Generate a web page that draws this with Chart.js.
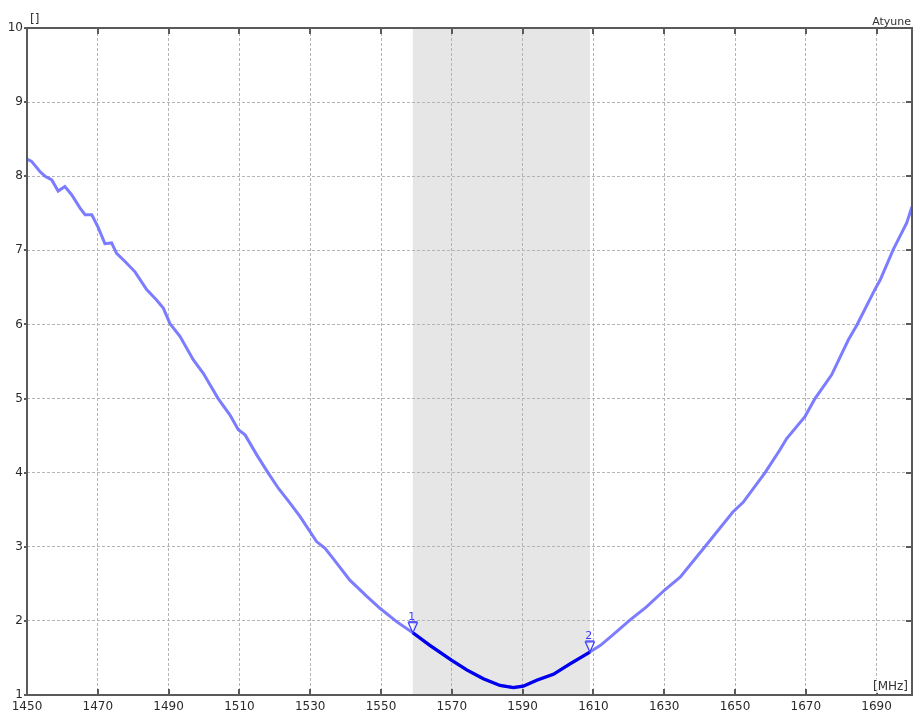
<!DOCTYPE html>
<html>
<head>
<meta charset="utf-8">
<script src="https://cdn.jsdelivr.net/npm/chart.js@4.4.1/dist/chart.umd.min.js"></script>
<style>
  html, body { margin: 0; padding: 0; background: #fff; }
  #wrap { width: 913px; height: 716px; position: relative; }
</style>
</head>
<body>
<div id="wrap"><canvas id="c"></canvas></div>
<script>
// ---- data ----
const curveFreqs = [1450, 1451.3, 1453.7, 1455.1, 1457, 1458.8, 1460.7, 1462.6, 1465, 1466.4, 1468.3, 1470.1,
  1472, 1473.9, 1475.3, 1477.7, 1480.5, 1483.8, 1486.6, 1488.5, 1490.4, 1493.2, 1497, 1499.8, 1504,
  1507.3, 1509.7, 1511.6, 1514.9, 1518.2, 1521, 1524.3, 1527.1, 1531.8, 1534.2, 1536.5, 1541.2, 1546,
  1549.7, 1554.4, 1559, 1563.8, 1569.9, 1574.2, 1578.9, 1583.6, 1587.4, 1590.2, 1594, 1598.7, 1603.4,
  1609, 1612, 1615, 1620.3, 1625, 1630.2, 1634.5, 1641.5, 1649.4, 1652.3, 1658.5, 1662.7, 1664.6,
  1669.8, 1672.6, 1677.3, 1682, 1684.4, 1689.5, 1691, 1694.7, 1698.5, 1700];
const curveValues = [8.23, 8.20, 8.06, 8.00, 7.95, 7.80, 7.86, 7.75, 7.57, 7.48, 7.48, 7.31,
  7.09, 7.10, 6.96, 6.85, 6.71, 6.47, 6.33, 6.22, 6.01, 5.84, 5.52, 5.34, 5.00,
  4.78, 4.58, 4.51, 4.24, 3.99, 3.79, 3.59, 3.41, 3.07, 2.98, 2.84, 2.55, 2.33,
  2.17, 1.99, 1.84, 1.67, 1.47, 1.34, 1.22, 1.13, 1.10, 1.12, 1.20, 1.28, 1.42,
  1.58, 1.67, 1.79, 2.01, 2.19, 2.42, 2.59, 3.00, 3.47, 3.60, 4.00, 4.31, 4.46,
  4.76, 5.00, 5.32, 5.79, 5.99, 6.47, 6.60, 7.01, 7.37, 7.59];
const bandStart = 1559;
const bandEnd = 1609;
const markerFreqs = [1559, 1609];
const markerValues = [1.84, 1.58];
const markerLabels = ['1', '2'];
const xTicks = [1450, 1470, 1490, 1510, 1530, 1550, 1570, 1590, 1610, 1630, 1650, 1670, 1690];
const xGrid = [1450, 1470, 1490, 1510, 1530, 1550, 1570, 1590, 1610, 1630, 1650, 1670, 1690, 1700];
const yTicks = [1, 2, 3, 4, 5, 6, 7, 8, 9, 10];
const yUnit = '[]';
const xUnit = '[MHz]';
const traceName = 'Atyune';

// ---- build datasets ----
const allPts = curveFreqs.map((f, i) => ({ x: f, y: curveValues[i] }));
const bandPts = allPts.filter(p => p.x >= bandStart && p.x <= bandEnd);

const FONT = '"DejaVu Sans", Verdana, sans-serif';

const framePlugin = {
  id: 'frame',
  beforeDraw(chart) {
    const { ctx, chartArea: a, scales } = chart;
    ctx.save();
    ctx.fillStyle = '#fff';
    ctx.fillRect(0, 0, chart.width, chart.height);
    const x1 = scales.x.getPixelForValue(bandStart);
    const x2 = scales.x.getPixelForValue(bandEnd);
    ctx.fillStyle = '#e6e6e6';
    ctx.fillRect(x1, a.top, x2 - x1, a.bottom - a.top);
    ctx.restore();
  },
  afterDraw(chart) {
    const { ctx, chartArea: a, scales } = chart;
    ctx.save();
    // frame
    ctx.strokeStyle = '#5a5a5a';
    ctx.lineWidth = 2;
    ctx.strokeRect(a.left, a.top, a.right - a.left, a.bottom - a.top);
    // inward ticks
    ctx.lineWidth = 2;
    ctx.beginPath();
    xTicks.forEach(v => {
      const px = Math.round(scales.x.getPixelForValue(v));
      ctx.moveTo(px, a.top); ctx.lineTo(px, a.top + 6);
      ctx.moveTo(px, a.bottom); ctx.lineTo(px, a.bottom - 6);
    });
    yTicks.forEach(v => {
      const py = Math.round(scales.y.getPixelForValue(v));
      ctx.moveTo(a.right, py); ctx.lineTo(a.right - 6, py);
      ctx.moveTo(a.left, py); ctx.lineTo(a.left - 3, py);
    });
    ctx.stroke();
    // markers
    ctx.strokeStyle = '#3b3bff';
    ctx.fillStyle = '#3b3bff';
    ctx.lineWidth = 1.2;
    ctx.font = '11px ' + FONT;
    ctx.textAlign = 'center';
    ctx.textBaseline = 'alphabetic';
    markerFreqs.forEach((f, i) => {
      const px = scales.x.getPixelForValue(f);
      const py = scales.y.getPixelForValue(markerValues[i]);
      ctx.beginPath();
      ctx.moveTo(px, py);
      ctx.lineTo(px - 4.5, py - 10);
      ctx.lineTo(px + 4.5, py - 10);
      ctx.closePath();
      ctx.stroke();
      ctx.beginPath();
      ctx.moveTo(px - 4.5, py - 11); ctx.lineTo(px + 4.5, py - 11);
      ctx.stroke();
      ctx.fillText(markerLabels[i], px - 1, py - 13);
    });
    // texts
    ctx.fillStyle = '#333';
    ctx.font = '12px ' + FONT;
    ctx.textAlign = 'left';
    ctx.fillText(yUnit, a.left + 3, a.top - 5);
    ctx.font = '11px ' + FONT;
    ctx.textAlign = 'right';
    ctx.fillText(traceName, a.right - 1, a.top - 3);
    ctx.font = '12px ' + FONT;
    const w = ctx.measureText(xUnit).width;
    ctx.fillStyle = 'rgba(255,255,255,0.85)';
    ctx.fillRect(a.right - 4 - w - 2, a.bottom - 16, w + 3, 14);
    ctx.fillStyle = '#333';
    ctx.fillText(xUnit, a.right - 4, a.bottom - 5);
    ctx.restore();
  }
};

new Chart(document.getElementById('c'), {
  type: 'scatter',
  data: {
    datasets: [
      {
        data: bandPts,
        showLine: true,
        borderColor: '#0000ee',
        borderWidth: 3.2,
        pointRadius: 0,
        tension: 0,
        order: 0
      },
      {
        data: allPts,
        showLine: true,
        borderColor: 'rgba(110,110,255,0.9)',
        borderWidth: 3,
        pointRadius: 0,
        tension: 0,
        order: 1
      }
    ]
  },
  options: {
    responsive: true,
    maintainAspectRatio: false,
    animation: false,
    events: [],
    layout: { padding: { top: 28, right: 1, left: 0, bottom: 0 } },
    plugins: { legend: { display: false }, tooltip: { enabled: false } },
    scales: {
      x: {
        type: 'linear',
        min: 1450,
        max: 1700,
        afterBuildTicks: s => { s.ticks = xGrid.map(v => ({ value: v })); },
        afterFit: s => { s.height = 21; s.paddingRight = 0; s.paddingLeft = 0; },
        grid: { color: '#b4b4b4', lineWidth: 1, drawTicks: false },
        border: { display: false, dash: [3, 2] },
        ticks: {
          color: '#2a2a2a',
          font: { family: FONT, size: 12 },
          padding: 5,
          maxRotation: 0,
          autoSkip: false,
          callback: v => (xTicks.includes(v) ? String(v) : '')
        }
      },
      y: {
        type: 'linear',
        min: 1,
        max: 10,
        afterBuildTicks: s => { s.ticks = yTicks.map(v => ({ value: v })); },
        afterFit: s => { s.width = 27; s.paddingTop = 0; s.paddingBottom = 0; },
        grid: { color: '#b4b4b4', lineWidth: 1, drawTicks: false },
        border: { display: false, dash: [3, 2] },
        ticks: {
          color: '#2a2a2a',
          font: { family: FONT, size: 12 },
          padding: 4,
          autoSkip: false,
          callback: v => String(v)
        }
      }
    }
  },
  plugins: [framePlugin]
});
</script>
</body>
</html>
